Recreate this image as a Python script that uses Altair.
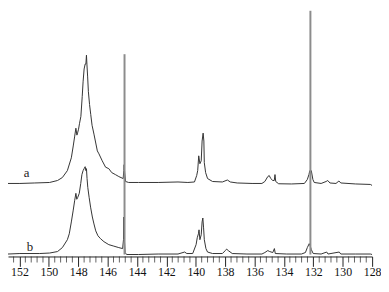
import altair as alt
import pandas as pd

# Trace a (upper spectrum)
a_ppm = [152.78, 151.97, 150.96, 149.95, 149.41, 149.08, 148.74, 148.47, 148.34, 148.24,
         148.16, 148.09, 148.03, 147.98, 147.91, 147.82, 147.73, 147.67, 147.60, 147.53,
         147.48, 147.44, 147.41, 147.36, 147.31, 147.23, 147.15, 147.06, 146.93, 146.70,
         146.59, 146.37, 146.14, 145.92, 145.72, 145.47, 145.24, 145.02, 144.94, 144.90,
         144.88, 144.84, 144.78, 144.57, 143.90, 142.56, 141.21, 140.54, 140.09, 139.94,
         139.87, 139.80, 139.72, 139.63, 139.57, 139.50, 139.45, 139.42, 139.33, 139.20,
         138.86, 138.19, 137.85, 137.65, 137.18, 136.17, 135.50, 135.30, 135.10, 135.00,
         134.90, 134.76, 134.66, 134.61, 134.56, 134.36, 133.49, 132.61, 132.41, 132.30,
         132.24, 132.14, 132.03, 131.94, 131.47, 131.13, 131.02, 130.87, 130.46, 130.26,
         130.13, 129.12, 128.12, 128.00]
a_int = [77, 77, 77.5, 78, 80, 83, 90, 103, 115, 125,
         133, 126, 129, 132, 138, 145, 165, 180, 193, 198,
         198, 207, 198, 185, 170, 157, 147, 136, 127, 110,
         107, 100, 93.5, 92, 88, 86, 84, 82.5, 82, 90,
         96, 88, 79, 78, 78, 78, 78.5, 78, 78.5, 85,
         90, 105, 97, 100, 120, 128, 120, 98, 88, 82,
         79, 78.5, 80.5, 78.5, 77.5, 77, 77, 79, 84, 85,
         82, 80, 80, 86, 79, 76.7, 76.5, 77, 81, 86,
         90, 90, 81, 78, 77, 79, 80, 77.5, 77, 79.5,
         77.5, 76.5, 76, 75]

# Trace b (lower spectrum)
b_ppm = [152.78, 151.97, 150.62, 149.95, 149.41, 149.08, 148.74, 148.61, 148.47, 148.34,
         148.24, 148.16, 148.10, 148.03, 147.93, 147.83, 147.75, 147.67, 147.60, 147.53,
         147.48, 147.44, 147.40, 147.35, 147.26, 147.16, 147.04, 146.93, 146.81, 146.66,
         146.48, 146.25, 145.92, 145.58, 145.24, 144.98, 144.92, 144.90, 144.86, 144.81,
         144.71, 143.90, 142.56, 141.21, 140.76, 140.61, 140.21, 139.98, 139.90, 139.82,
         139.78, 139.72, 139.63, 139.57, 139.52, 139.47, 139.42, 139.31, 139.20, 138.86,
         138.19, 137.99, 137.90, 137.79, 137.52, 136.52, 135.50, 135.30, 135.10, 134.97,
         134.76, 134.65, 134.59, 133.82, 132.81, 132.54, 132.41, 132.28, 132.22, 132.14,
         132.01, 131.47, 131.09, 131.00, 130.24, 130.13, 129.12, 128.12, 128.00]
b_int = [5.5, 6, 6, 6.5, 8, 12, 20, 26, 38, 50,
         60, 67, 61, 63, 67, 77, 86, 90, 92, 94,
         90, 92, 82, 73, 63, 53, 43, 36, 29, 24,
         21, 18, 15, 13.5, 12, 11, 20, 43, 20, 7,
         5, 5, 5.5, 5.5, 7.5, 6, 6, 15, 22, 26,
         30, 20, 25, 38, 42, 32, 20, 11, 7.5, 6,
         6, 9, 10.5, 9, 6, 5.5, 5.5, 7, 9, 8,
         7, 11, 6, 5.5, 5.5, 7, 12, 16, 14, 10,
         6, 5.5, 7.5, 5.5, 7.5, 5.5, 5.5, 5.5, 5]

# Sharp lines drawn full height
line_ppm = [144.85, 132.20]
line_top = [208, 252]
line_bottom = [5, 5]

# Trace labels
label_text = ["a", "b"]
label_ppm = [151.52, 151.29]
label_int = [88, 13]

# Axis ticks
major_ticks = [152, 150, 148, 146, 144, 142, 140, 138, 136, 134, 132, 130, 128]
minor_ticks = [round(152.4 - 0.4 * i, 1) for i in range(62)]
minor_ticks = [t for t in minor_ticks if t >= 128 and abs(t / 2 - round(t / 2)) > 0.01]

DOMAIN = [152.78, 128]
W, H = 369, 249
SERIF = "Liberation Serif, Times New Roman, DejaVu Serif, serif"

spec = pd.concat([
    pd.DataFrame({"ppm": a_ppm, "intensity": a_int, "trace": "a"}),
    pd.DataFrame({"ppm": b_ppm, "intensity": b_int, "trace": "b"}),
])
lines_df = pd.DataFrame({"ppm": line_ppm, "top": line_top, "bottom": line_bottom})
labels_df = pd.DataFrame({"text": label_text, "ppm": label_ppm, "intensity": label_int})
minor_df = pd.DataFrame({"ppm": minor_ticks})

xscale = alt.Scale(domain=DOMAIN, nice=False, zero=False)
yscale = alt.Scale(domain=[3, 252], nice=False, zero=False)


def xaxis():
    return alt.Axis(values=major_ticks, title=None, format="d",
                    labelFont=SERIF, labelFontSize=12, labelColor="#111",
                    tickSize=10, tickColor="#222", domainColor="#222", tickWidth=1,
                    domainWidth=1, labelPadding=0, grid=False, labelFlush=False,
                    labelOverlap=False)


traces = alt.Chart(spec).mark_line(color="#333", strokeWidth=1, clip=True).encode(
    x=alt.X("ppm:Q", scale=xscale, axis=xaxis()),
    y=alt.Y("intensity:Q", scale=yscale, axis=None),
    detail="trace:N",
)

rules = alt.Chart(lines_df).mark_rule(color="#8c8c8c", strokeWidth=2).encode(
    x=alt.X("ppm:Q", scale=xscale, axis=xaxis()),
    y=alt.Y("top:Q", scale=yscale, axis=None),
    y2="bottom:Q",
)

labels = alt.Chart(labels_df).mark_text(font=SERIF, fontSize=13,
                                        color="#222", baseline="middle").encode(
    x=alt.X("ppm:Q", scale=xscale, axis=xaxis()),
    y=alt.Y("intensity:Q", scale=yscale, axis=None),
    text="text:N",
)

minor = alt.Chart(minor_df).mark_tick(color="#222", thickness=1, size=6,
                                      orient="vertical").encode(
    x=alt.X("ppm:Q", scale=xscale, axis=xaxis()),
    y=alt.value(H + 3),
)

chart = alt.layer(traces, rules, labels, minor).properties(
    width=W, height=H,
    padding={"left": 0, "top": 0, "right": 0, "bottom": 0},
).configure_view(stroke=None)

chart.save("out.html", embed_options={"renderer": "svg", "actions": False})
